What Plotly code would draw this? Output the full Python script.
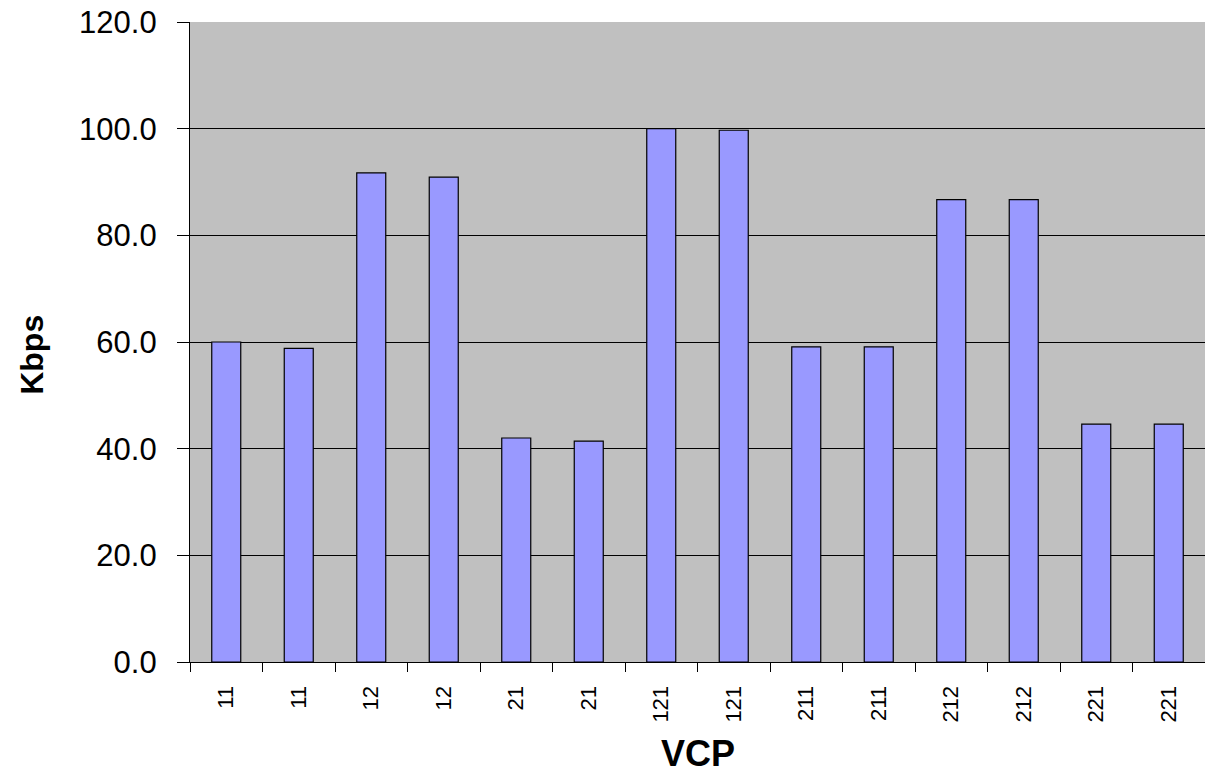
import plotly.graph_objects as go

categories = ["11", "11", "12", "12", "21", "21", "121", "121", "211", "211", "212", "212", "221", "221"]
kbps = [60.0, 58.8, 91.7, 90.9, 42.0, 41.4, 100.0, 99.7, 59.1, 59.1, 86.7, 86.7, 44.6, 44.6]
y_ticks = [0, 20, 40, 60, 80, 100, 120]

positions = list(range(len(categories)))

fig = go.Figure(
    go.Bar(
        x=positions,
        y=kbps,
        width=0.4,
        marker=dict(color="#9999FF", line=dict(color="black", width=1.2)),
    )
)

fig.update_layout(
    width=1205,
    height=774,
    margin=dict(l=190, r=0, t=22, b=112),
    paper_bgcolor="white",
    plot_bgcolor="#C0C0C0",
    showlegend=False,
    font=dict(family="Liberation Sans, Arial, sans-serif", color="black"),
    annotations=[
        dict(
            text="<b>Kbps</b>",
            xref="paper", yref="paper",
            x=0, y=0.48,
            xshift=-158,
            xanchor="center", yanchor="middle",
            textangle=-90,
            showarrow=False,
            font=dict(size=32),
        ),
        dict(
            text="<b>VCP</b>",
            xref="paper", yref="paper",
            x=0.5, y=0,
            yshift=-91,
            xanchor="center", yanchor="middle",
            showarrow=False,
            font=dict(size=36),
        ),
    ],
)

fig.update_xaxes(
    range=[-0.5, len(categories) - 0.5],
    tickmode="array",
    tickvals=positions,
    ticktext=categories,
    tickangle=-90,
    ticks="",
    tickfont=dict(size=22),
    showgrid=False,
    zeroline=False,
    showline=True,
    linecolor="black",
    linewidth=1.2,
    ticklabelstandoff=14,
    automargin=False,
    minor=dict(tick0=-0.5, dtick=1, ticks="outside", ticklen=9, tickcolor="black", tickwidth=1.2, showgrid=False),
)

fig.update_yaxes(
    range=[0, 120],
    tickmode="array",
    tickvals=y_ticks,
    tickformat=".1f",
    ticks="outside",
    ticklen=12,
    tickcolor="black",
    tickwidth=1.2,
    tickfont=dict(size=31),
    ticklabelstandoff=14,
    ticklabeloverflow="allow",
    automargin=False,
    showgrid=True,
    gridcolor="black",
    gridwidth=1.2,
    zeroline=False,
    showline=True,
    linecolor="black",
    linewidth=1.2,
)

fig.write_html(
    "out.html",
    config={"displayModeBar": False},
    post_script="document.body.style.margin='0';document.body.style.overflow='hidden';",
)
